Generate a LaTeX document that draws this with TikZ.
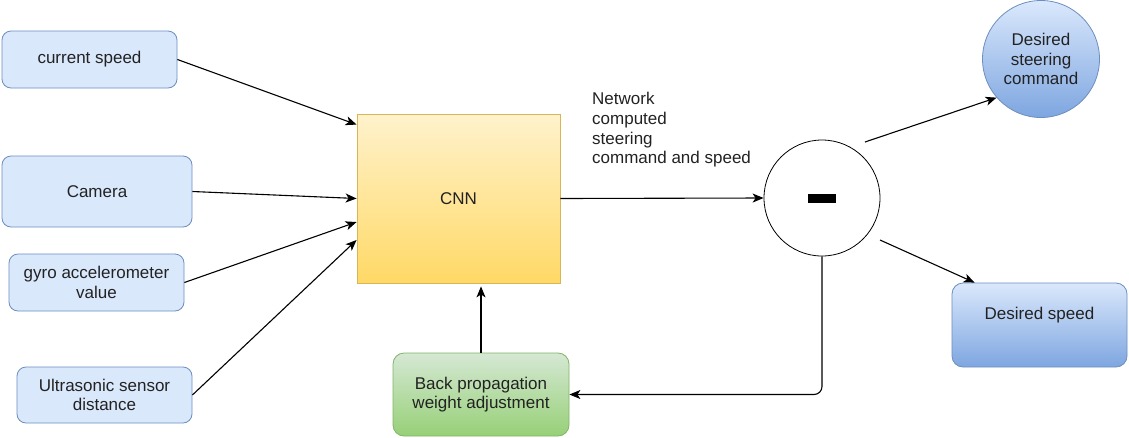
\documentclass[tikz,border=0pt]{standalone}
\usepackage{fontspec}
\setmainfont{Liberation Sans}
\usetikzlibrary{positioning, calc, shapes, arrows.meta}

\definecolor{inblue}{HTML}{DAE8FC}
\definecolor{outblue}{HTML}{7EA6E0}
\definecolor{blueline}{HTML}{6C8EBF}
\definecolor{cnntop}{HTML}{FFF2CC}
\definecolor{cnnbot}{HTML}{FFD966}
\definecolor{cnnline}{HTML}{D6B656}
\definecolor{greentop}{HTML}{D5E8D4}
\definecolor{greenbot}{HTML}{97D077}
\definecolor{greenline}{HTML}{82B366}
\definecolor{txtgray}{HTML}{222222}

\begin{document}
\begin{tikzpicture}[x=1pt,y=-1pt,>={Stealth[length=11pt,width=9pt,inset=3pt]},
    font=\fontsize{17}{19.8}\selectfont, text=txtgray,
    inbox/.style={draw=blueline, fill=inblue, rounded corners=9pt, align=center, line width=0.8pt},
    cnnbox/.style={draw=cnnline, top color=cnntop, bottom color=cnnbot, line width=0.8pt},
    backbox/.style={draw=greenline, top color=greentop, bottom color=greenbot, rounded corners=11pt, align=center, line width=0.8pt},
    outbox/.style={draw=blueline, top color=inblue, bottom color=outblue, rounded corners=11pt, align=center, line width=0.8pt},
    conn/.style={->, line width=1.1pt}]
      \useasboundingbox (0,0) rectangle (1129,437);

      % inputs
      \node[inbox, minimum width=175, minimum height=57] (speed) at (89.5,59.5) {current speed};
      \node[inbox, minimum width=190, minimum height=71] (camera) at (97,191.5) {Camera};
      \node[inbox, minimum width=175, minimum height=57] (gyro) at (96.5,282.5) {gyro accelerometer\\value};
      \node[inbox, minimum width=175, minimum height=56] (sonar) at (104.5,395) {Ultrasonic sensor\\distance};

      % network and feedback
      \node[cnnbox, minimum width=203, minimum height=169] (cnn) at (458.5,198.5) {CNN};
      \node[backbox, minimum width=176, minimum height=83] (backprop) at (481,394.5) {Back propagation\\weight adjustment};
      \node[draw, circle, text=black, line width=0.8pt, minimum size=116] (diff) at (822,198) {\rule{28pt}{9pt}};
      \node[anchor=north west, inner sep=0, align=left] (netlabel) at (592,92) {Network\\computed\\steering\\command and speed};

      % targets
      \node[outbox, circle, minimum size=117, inner sep=0] (steer) at (1041,59) {Desired\\steering\\command};
      \node[outbox, minimum width=175, minimum height=84, text depth=24pt] (dspeed) at (1039.5,325) {Desired speed};

      \coordinate (diff_up) at ($(diff)+(43,-56)$);
      \coordinate (diff_down) at ($(diff)+(58,42)$);

      \draw[conn] (speed.east) -- ($(cnn.north west)+(0,11)$);
      \draw[conn] (camera.east) -- (cnn.west);
      \draw[conn] (gyro.east) -- ($(cnn.west)+(0,23.5)$);
      \draw[conn] (sonar.east) -- ($(cnn.west)+(0,41.5)$);
      \draw[conn] (cnn.east) -- (diff.west);
      \draw[conn] (diff_up) -- (steer.221);
      \draw[conn] (diff_down) -- ($(dspeed.north west)+(23,0)$);
      \draw[conn, rounded corners=8pt] (diff.south) |- (backprop.east);
      \draw[conn, shorten >=3pt] (backprop.north) -- (backprop.north |- cnn.south);
\end{tikzpicture}
\end{document}
